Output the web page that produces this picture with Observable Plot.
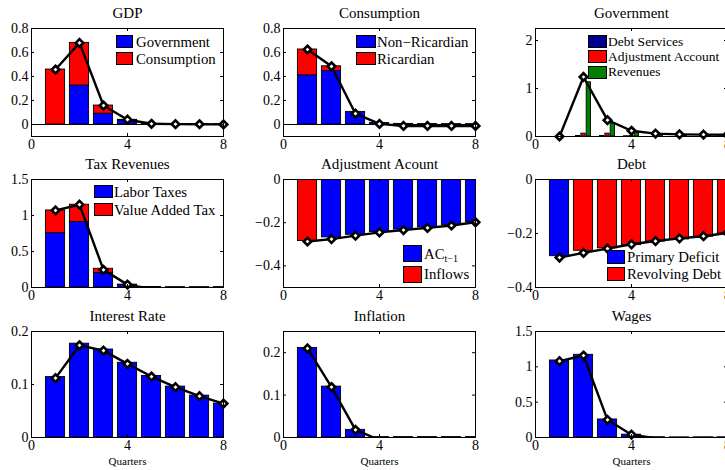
<!DOCTYPE html>
<html><head><meta charset="utf-8">
<script src="https://cdn.jsdelivr.net/npm/d3@7"></script>
<script src="https://cdn.jsdelivr.net/npm/@observablehq/plot@0.6"></script>
<style>
html,body{margin:0;padding:0;background:#fff;overflow:hidden;}
#chart{position:relative;width:725px;height:470px;overflow:hidden;font-family:"Liberation Serif","Times New Roman",serif;background:#fff;}
.panel{position:absolute;}
.legend{position:absolute;font-size:14.8px;color:#000;}
.legend .sw{position:absolute;box-sizing:border-box;border:1px solid #000;}
.legend .lb{position:absolute;white-space:nowrap;line-height:1;transform:translateY(-50%);}
.legend sub{font-size:10px;vertical-align:-3px;line-height:0;}
</style></head><body><div id="chart"></div><script>
// ---------- data ----------
const quarters = [1, 2, 3, 4, 5, 6, 7, 8];
const xTicks = [0, 4, 8];

// GDP
const gdpGovernment  = [0, 0.325, 0.09, 0.035, 0.004, 0.002, 0.001, 0.001];
const gdpConsumption = [0.458, 0.355, 0.068, 0.004, 0.002, 0.001, 0.001, 0.001];
const gdpTotal       = [0.458, 0.68, 0.158, 0.04, 0.006, 0.003, 0.002, 0.001];
// Consumption
const consNonRicardian = [0.41, 0.445, 0.105, 0.012, 0.002, 0.001, 0.001, 0.001];
const consRicardian    = [0.215, 0.04, 0, 0, 0.003, 0.002, 0.001, 0.001];
const consTotal        = [0.625, 0.485, 0.09, 0.005, -0.012, -0.012, -0.012, -0.012];
// Government
const govDebtServices = [0, 0.01, 0.01, 0.005, 0, 0, 0, 0];
const govAdjustment   = [0, 0.06, 0.06, 0.01, 0.005, 0.003, 0.002, 0.002];
const govRevenues     = [0, 1.13, 0.28, 0.07, 0.03, 0.02, 0.02, 0.02];
const govTotal        = [0, 1.24, 0.34, 0.12, 0.06, 0.045, 0.04, 0.035];
// Tax Revenues
const taxLabor = [0.755, 0.91, 0.2, 0.035, 0.004, 0.002, 0.002, 0.002];
const taxVAT   = [0.315, 0.24, 0.06, 0.005, 0.002, 0.001, 0.001, 0.001];
const taxTotal = [1.07, 1.15, 0.245, 0.04, -0.02, -0.015, -0.01, -0.005];
// Adjustment Acount
const adjLagged  = [0, -0.268, -0.256, -0.243, -0.232, -0.222, -0.211, -0.197];
const adjInflows = [-0.285, 0, 0, 0, 0, 0, 0, 0];
const adjTotal   = [-0.287, -0.276, -0.26, -0.245, -0.234, -0.224, -0.213, -0.198];
// Debt
const debtPrimary   = [-0.284, 0, 0, 0, 0, 0, 0, 0];
const debtRevolving = [0, -0.264, -0.255, -0.243, -0.23, -0.222, -0.212, -0.2];
const debtTotal     = [-0.289, -0.272, -0.256, -0.24, -0.228, -0.218, -0.21, -0.198];
// Interest Rate
const rateBars = [0.114, 0.177, 0.166, 0.141, 0.116, 0.096, 0.079, 0.064];
const rateLine = [0.112, 0.174, 0.164, 0.139, 0.115, 0.095, 0.078, 0.064];
// Inflation
const inflBars = [0.211, 0.12, 0.018, 0.001, 0.001, 0.001, 0.001, 0.001];
const inflLine = [0.21, 0.119, 0.018, -0.006, -0.005, -0.004, -0.003, -0.002];
// Wages
const wageBars = [1.09, 1.17, 0.255, 0.04, 0.004, 0.002, 0.002, 0.002];
const wageLine = [1.08, 1.16, 0.25, 0.04, -0.01, -0.01, -0.008, -0.006];

const BLUE = "#0000FF", RED = "#FF0000", NAVY = "#00008F", GREEN = "#008000";

// ---------- layout ----------
const colLeft = [31, 283, 535];
const rowTop = [28, 179, 331];
const rowH = [108, 108, 106];
const frameW = 192;
const ml = 40, mr = 14, mt = 30, mb = 36;
const fmt = d3.format("~g");

const panels = [
  {title: "GDP", row: 0, col: 0, yDomain: [-0.1, 0.8], yTicks: [0, 0.2, 0.4, 0.6, 0.8],
   series: [{name: "Government", color: BLUE, values: gdpGovernment}, {name: "Consumption", color: RED, values: gdpConsumption}],
   line: gdpTotal, legend: {left: 116, top: 35, pitch: 17, w: 17, h: 13, gap: 3}},
  {title: "Consumption", row: 0, col: 1, yDomain: [-0.1, 0.8], yTicks: [0, 0.2, 0.4, 0.6, 0.8],
   series: [{name: "Non\u2212Ricardian", color: BLUE, values: consNonRicardian}, {name: "Ricardian", color: RED, values: consRicardian}],
   line: consTotal, legend: {left: 356, top: 35, pitch: 17, w: 20, h: 13, gap: 1}},
  {title: "Government", row: 0, col: 2, yDomain: [0, 2.25], yTicks: [0, 1, 2], grouped: true,
   series: [{name: "Debt Services", color: NAVY, values: govDebtServices}, {name: "Adjustment Account", color: RED, values: govAdjustment}, {name: "Revenues", color: GREEN, values: govRevenues}],
   line: govTotal, legend: {left: 588, top: 35, pitch: 15.3, w: 19, h: 13, gap: 1, fontSize: 13.5}},
  {title: "Tax Revenues", row: 1, col: 0, yDomain: [0, 1.5], yTicks: [0, 0.5, 1, 1.5],
   series: [{name: "Labor Taxes", color: BLUE, values: taxLabor}, {name: "Value Added Tax", color: RED, values: taxVAT}],
   line: taxTotal, legend: {left: 94, top: 185, pitch: 18, w: 19, h: 13, gap: 1}},
  {title: "Adjustment Acount", row: 1, col: 1, yDomain: [-0.5, 0], yTicks: [-0.4, -0.2, 0],
   series: [{name: "AC<sub>t\u22121</sub>", color: BLUE, values: adjLagged}, {name: "Inflows", color: RED, values: adjInflows}],
   line: adjTotal, legend: {left: 403, top: 245, pitch: 20.5, w: 19, h: 17, gap: 2}},
  {title: "Debt", row: 1, col: 2, yDomain: [-0.4, 0], yTicks: [-0.4, -0.2, 0],
   series: [{name: "Primary Deficit", color: BLUE, values: debtPrimary}, {name: "Revolving Debt", color: RED, values: debtRevolving}],
   line: debtTotal, legend: {left: 607, top: 250, pitch: 16.8, w: 18, h: 14, gap: 2}},
  {title: "Interest Rate", row: 2, col: 0, yDomain: [0, 0.2], yTicks: [0, 0.1, 0.2],
   series: [{name: "", color: BLUE, values: rateBars}], line: rateLine, xlabel: "Quarters"},
  {title: "Inflation", row: 2, col: 1, yDomain: [0, 0.25], yTicks: [0, 0.1, 0.2],
   series: [{name: "", color: BLUE, values: inflBars}], line: inflLine, xlabel: "Quarters"},
  {title: "Wages", row: 2, col: 2, yDomain: [0, 1.5], yTicks: [0, 0.5, 1, 1.5],
   series: [{name: "", color: BLUE, values: wageBars}], line: wageLine, xlabel: "Quarters"}
];

const chart = document.getElementById("chart");

function drawPanel(p) {
  const H = rowH[p.row], W = frameW;
  const bars = [];
  if (p.grouped) {
    const n = p.series.length, gw = Math.min(0.8, n / (n + 1.5)), bw = 0.8 * gw / n;
    p.series.forEach((s, i) => quarters.forEach((q, j) => {
      const c = q - gw / 2 + (2 * i + 1) * gw / (2 * n);
      bars.push({x1: c - bw / 2, x2: c + bw / 2, y1: 0, y2: s.values[j], fill: s.color});
    }));
  } else {
    quarters.forEach((q, j) => {
      let cum = 0;
      p.series.forEach(s => {
        const v = s.values[j];
        bars.push({x1: q - 0.4, x2: q + 0.4, y1: cum, y2: cum + v, fill: s.color});
        cum += v;
      });
    });
  }
  const line = quarters.map((q, j) => ({x: q, y: p.line[j]}));
  const [d0, d1] = p.yDomain;
  const marks = [
    Plot.rect(bars.filter(b => b.y1 !== b.y2), {x1: "x1", x2: "x2", y1: "y1", y2: "y2", fill: "fill", stroke: "#000", strokeWidth: 0.9, clip: true}),
    Plot.ruleY([0], {stroke: "#000", strokeWidth: 1}),
    Plot.line(line, {x: "x", y: "y", stroke: "#000", strokeWidth: 2.4, clip: true}),
    Plot.dot(line.filter(d => d.y >= d0 && d.y <= d1), {x: "x", y: "y", symbol: "diamond2", r: 3.4, fill: "#fff", stroke: "#000", strokeWidth: 2.6}),
    Plot.tickX(xTicks, {x: d => d, insetTop: H - 3, stroke: "#000"}),
    Plot.tickX(xTicks, {x: d => d, insetBottom: H - 3, stroke: "#000"}),
    Plot.tickY(p.yTicks, {y: d => d, insetRight: W - 3, stroke: "#000"}),
    Plot.tickY(p.yTicks, {y: d => d, insetLeft: W - 3, stroke: "#000"}),
    Plot.axisX({ticks: xTicks, anchor: "bottom", tickSize: 0, tickPadding: 3, label: null, fill: "#000", tickFormat: fmt}),
    Plot.axisY({ticks: p.yTicks, anchor: "left", tickSize: 0, tickPadding: 3, label: null, fill: "#000", tickFormat: fmt}),
    Plot.frame({stroke: "#000", strokeWidth: 1}),
    Plot.text([p.title], {text: d => d, frameAnchor: "top", lineAnchor: "middle", dy: -15, fontSize: 15, fill: "#000"})
  ];
  if (p.xlabel) marks.push(Plot.text([p.xlabel], {text: d => d, frameAnchor: "bottom", lineAnchor: "middle", dy: 24, fontSize: 11, fill: "#000"}));
  const svg = Plot.plot({
    width: ml + W + mr, height: mt + H + mb,
    marginLeft: ml, marginRight: mr, marginTop: mt, marginBottom: mb,
    x: {domain: [0, 8]}, y: {domain: p.yDomain},
    style: {fontFamily: "'Liberation Serif', 'Times New Roman', serif", fontSize: "14px", background: "none", overflow: "visible", color: "#000"},
    marks
  });
  svg.classList.add("panel");
  svg.style.left = (colLeft[p.col] - ml) + "px";
  svg.style.top = (rowTop[p.row] - mt) + "px";
  chart.appendChild(svg);
}

function drawLegend(p) {
  if (!p.legend) return;
  const L = p.legend;
  const div = document.createElement("div");
  div.className = "legend";
  div.style.left = L.left + "px";
  div.style.top = L.top + "px";
  if (L.fontSize) div.style.fontSize = L.fontSize + "px";
  p.series.forEach((s, i) => {
    const sw = document.createElement("div");
    sw.className = "sw";
    Object.assign(sw.style, {left: "0px", top: (i * L.pitch) + "px", width: L.w + "px", height: L.h + "px", background: s.color});
    const lb = document.createElement("div");
    lb.className = "lb";
    lb.innerHTML = s.name;
    Object.assign(lb.style, {left: (L.w + L.gap) + "px", top: (i * L.pitch + L.h / 2) + "px"});
    div.appendChild(sw);
    div.appendChild(lb);
  });
  chart.appendChild(div);
}

panels.forEach(drawPanel);
panels.forEach(drawLegend);
</script></body></html>
